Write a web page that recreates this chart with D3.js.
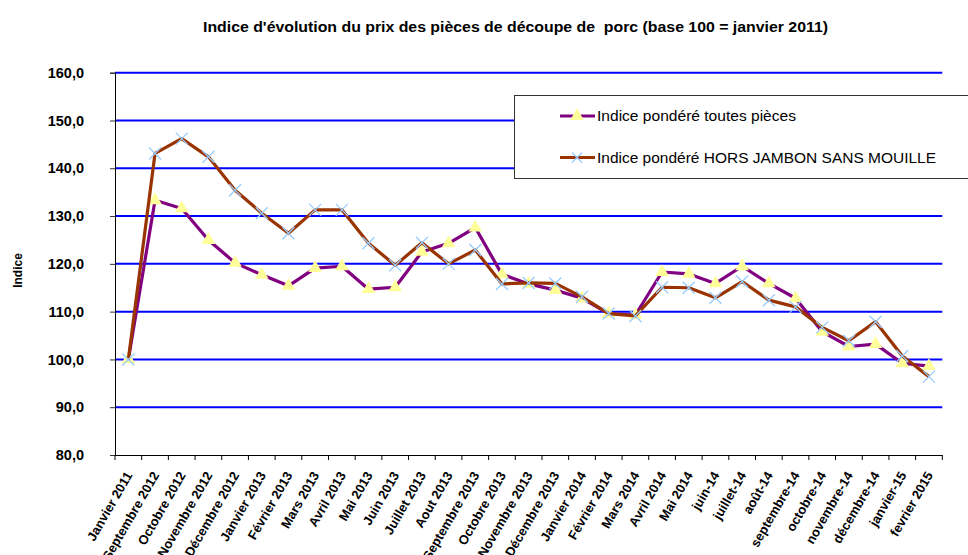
<!DOCTYPE html>
<html><head><meta charset="utf-8">
<script src="https://cdn.jsdelivr.net/npm/d3@7"></script>
<style>body{margin:0;background:#fff}svg{display:block}text{font-family:"Liberation Sans",Arial,sans-serif}</style>
</head><body><svg id="c" width="968" height="555"></svg>
<script>
const categories = ["Janvier 2011","Septembre 2012","Octobre 2012","Novembre 2012","Décembre 2012","Janvier 2013","Février 2013","Mars 2013","Avril 2013","Mai 2013","Juin 2013","Juillet 2013","Aout 2013","Septembre 2013","Octobre 2013","Novembre 2013","Décembre 2013","Janvier 2014","Février 2014","Mars 2014","Avril 2014","Mai 2014","juin-14","juillet-14","août-14","septembre-14","octobre-14","novembre-14","décembre-14","janvier-15","fevrier 2015"];
const toutesPieces = [100,133.3,131.6,125.0,120.2,117.7,115.4,119.1,119.5,114.7,115.1,122.5,124.3,127.6,117.8,115.8,114.5,112.8,109.6,109.3,118.3,117.9,115.9,119.5,115.9,112.8,105.8,102.7,103.2,99.2,98.6];
const horsJambon = [100,143.1,146.2,142.4,135.4,130.6,126.4,131.3,131.3,124.3,119.7,124.4,120.0,122.9,115.8,116.0,115.9,113.1,109.6,109.1,115.1,115.0,112.9,116.3,112.4,111.0,106.7,103.9,107.9,100.7,96.4];
const yTicks = [80,90,100,110,120,130,140,150,160];
const title = "Indice d'évolution du prix des pièces de découpe de  porc (base 100 = janvier 2011)";
const yTitle = "Indice";
const seriesNames = ["Indice pondéré toutes pièces","Indice pondéré HORS JAMBON SANS MOUILLE"];

const svg = d3.select("#c");
const L = 115, R = 942.3, T = 72.7, B = 455;
const x = d3.scaleBand().domain(categories).range([L, R]);
const y = d3.scaleLinear().domain([80,160]).range([B, T]);

// title
svg.append("text").attr("x",203).attr("y",32.3).attr("text-anchor","start")
  .attr("font-weight","bold").attr("font-size","14px").style("white-space","pre")
  .attr("textLength",625).attr("lengthAdjust","spacingAndGlyphs").text(title);

// gridlines
svg.append("g").selectAll("line").data(yTicks.filter(d=>d>80)).join("line")
  .attr("x1",L).attr("x2",R).attr("y1",d=>y(d)).attr("y2",d=>y(d))
  .attr("stroke","#0000ff").attr("stroke-width",2);

// y axis
const ya = svg.append("g").attr("transform",`translate(${L},0)`)
  .call(d3.axisLeft(y).tickValues(yTicks).tickSize(5).tickPadding(26).tickFormat(d=>d3.format(".1f")(d).replace(".",",")));
ya.select(".domain").attr("stroke","#000");
ya.selectAll(".tick line").attr("stroke","#333");
ya.selectAll("text").attr("font-weight","bold").attr("font-size","14.5px").attr("fill","#000").style("font-family",'"Liberation Sans",Arial,sans-serif');

// x axis
const xa = svg.append("g").attr("transform",`translate(0,${B})`)
  .call(d3.axisBottom(x).tickValues([]).tickSizeOuter(0));
xa.select(".domain").attr("stroke","#000");
const bounds = categories.map((c,i)=>L + i*x.bandwidth()).concat([R]);
xa.selectAll("line.tk").data(bounds).join("line").attr("class","tk")
  .attr("x1",d=>d).attr("x2",d=>d).attr("y1",0).attr("y2",5).attr("stroke","#000");
xa.selectAll("text.lbl").data(categories).join("text").attr("class","lbl")
  .attr("transform",d=>`translate(${x(d)+x.bandwidth()/2+4.5},${20}) rotate(-60)`)
  .attr("text-anchor","end")
  .attr("font-weight","bold").attr("font-size","13px").attr("fill","#000").text(d=>d);

// y title
svg.append("text").attr("transform","translate(21.5,270.5) rotate(-90)").attr("text-anchor","middle")
  .attr("font-weight","bold").attr("font-size","12px").text(yTitle);

const line = d3.line().x((d,i)=>x(categories[i])+x.bandwidth()/2).y(d=>y(d));
const tri = d3.symbol().type(d3.symbolTriangle).size(80);

function drawSeries(vals, color, marker){
  svg.append("path").datum(vals).attr("d",line).attr("fill","none")
    .attr("stroke",color).attr("stroke-width",3.2).attr("stroke-linejoin","round");
  const g = svg.append("g");
  if(marker==="tri"){
    g.selectAll("path").data(vals).join("path").attr("d",tri)
      .attr("transform",(d,i)=>`translate(${x(categories[i])+x.bandwidth()/2},${y(d)})`)
      .attr("fill","#ffff99");
  } else {
    g.selectAll("path").data(vals).join("path")
      .attr("d","M-6,-6L6,6M-6,6L6,-6")
      .attr("transform",(d,i)=>`translate(${x(categories[i])+x.bandwidth()/2},${y(d)})`)
      .attr("stroke","#99ccff").attr("stroke-width",1.3).attr("fill","none");
  }
}
drawSeries(toutesPieces,"#800080","tri");
drawSeries(horsJambon,"#993300","x");

// legend
const lg = svg.append("g");
lg.append("rect").attr("x",514.5).attr("y",95.5).attr("width",460).attr("height",83)
  .attr("fill","#fff").attr("stroke","#333").attr("stroke-width",1);
const legW = [199, 339];
[0,1].forEach(i=>{
  const yy = i===0 ? 116 : 157.5;
  const col = i===0 ? "#800080" : "#993300";
  lg.append("line").attr("x1",560).attr("x2",595).attr("y1",yy).attr("y2",yy).attr("stroke",col).attr("stroke-width",3.2);
  if(i===0){
    lg.append("path").attr("d",tri).attr("transform",`translate(577,${yy})`).attr("fill","#ffff99");
  } else {
    lg.append("path").attr("d","M-5,-5L5,5M-5,5L5,-5").attr("transform",`translate(577,${yy})`).attr("stroke","#99ccff").attr("stroke-width",1.3);
  }
  lg.append("text").attr("x",597).attr("y",yy+5).attr("font-size","14px").attr("fill","#000")
    .attr("textLength",legW[i]).attr("lengthAdjust","spacingAndGlyphs").text(seriesNames[i]);
});
</script></body></html>
